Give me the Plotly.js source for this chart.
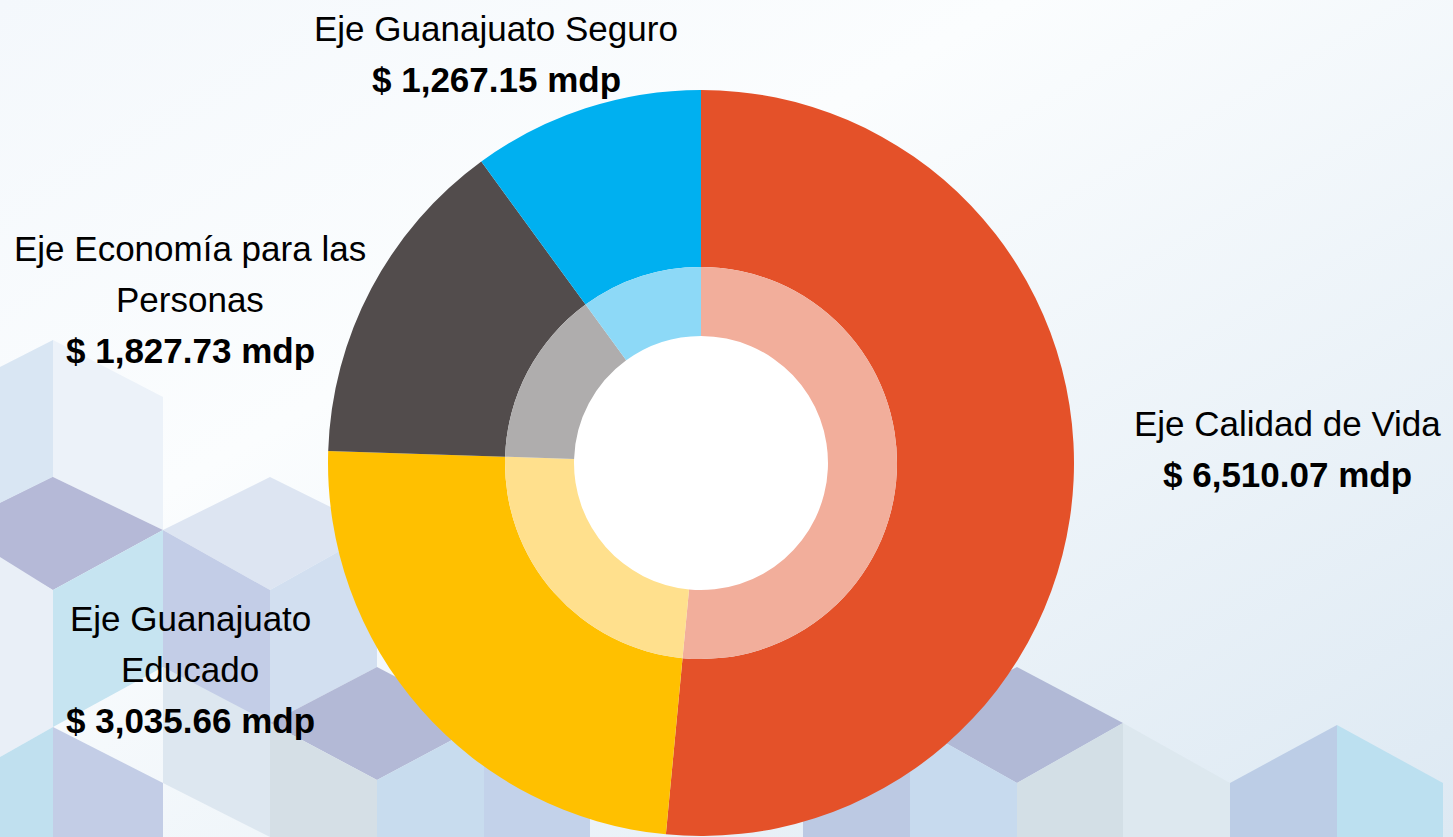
<!DOCTYPE html>
<html>
<head>
<meta charset="utf-8">
<script src="https://cdn.plot.ly/plotly-3.0.1.min.js"></script>
<style>
  html, body { margin: 0; padding: 0; background: #ffffff; }
  #plot { width: 1453px; height: 837px; }
</style>
</head>
<body>
<div id="plot"></div>
<script>
// data (millones de pesos)
var labels = ["Eje Calidad de Vida", "Eje Guanajuato Educado", "Eje Economía para las Personas", "Eje Guanajuato Seguro"];
var labelLines = [["Eje Calidad de Vida"], ["Eje Guanajuato", "Educado"], ["Eje Economía para las", "Personas"], ["Eje Guanajuato Seguro"]];
var values = [6510.07, 3035.66, 1827.73, 1267.15];
var outerColors = ["#E45129", "#FFC000", "#524C4C", "#00B0F0"];
var innerColors = ["#F2AE9B", "#FFE08D", "#AFADAD", "#8DD9F7"];

var W = 1453, H = 837;

// label blocks: centre x and y of the first line (pixels)
var labelPos = [[1287, 423], [190, 618], [190, 248], [496, 28]];
var lineGap = 51;

// background: pale gradient + isometric cube faces
var faces = [
  [[[0,367],[53,340],[53,477],[0,503]], "#d9e6f3"],
  [[[53,340],[163,397],[163,530],[53,477]], "#ecf2f9"],
  [[[0,503],[53,477],[53,590],[0,557]], "#b6b9d7"],
  [[[-54,530],[53,477],[163,530],[53,590]], "#b5b9d7"],
  [[[163,530],[270,477],[377,530],[270,590]], "#dde5f2"],
  [[[0,557],[53,590],[53,727],[0,757]], "#e9eff7"],
  [[[53,590],[163,530],[163,667],[53,727]], "#c6e4f1"],
  [[[163,530],[270,590],[270,727],[163,667]], "#c3cde7"],
  [[[270,590],[377,530],[377,667],[270,723]], "#d2dff0"],
  [[[0,757],[53,727],[53,837],[0,837]], "#c0e0ef"],
  [[[53,727],[163,783],[163,837],[53,837]], "#c3cde6"],
  [[[163,783],[163,667],[270,723],[270,837]], "#dde7f0"],
  [[[270,723],[377,667],[484,723],[377,780]], "#b3b9d6"],
  [[[270,723],[377,780],[377,837],[270,837]], "#d5dfe6"],
  [[[377,780],[484,723],[484,837],[377,837]], "#c8dcee"],
  [[[484,723],[590,780],[590,837],[484,837]], "#c3d2ea"],
  [[[803,783],[910,723],[910,837],[803,837]], "#bcc9e3"],
  [[[910,723],[1017,667],[1123,723],[1017,783]], "#b1b9d6"],
  [[[910,723],[1017,783],[1017,837],[910,837]], "#c7daee"],
  [[[1017,783],[1123,723],[1123,837],[1017,837]], "#d3dfe6"],
  [[[1123,723],[1230,783],[1230,837],[1123,837]], "#dde8ef"],
  [[[1230,783],[1337,725],[1337,837],[1230,837]], "#bccde6"],
  [[[1337,725],[1443,783],[1443,837],[1337,837]], "#bce0f0"]
];

var svg = '<svg xmlns="http://www.w3.org/2000/svg" width="' + W + '" height="' + H + '" viewBox="0 0 ' + W + ' ' + H + '" preserveAspectRatio="none">' +
  '<defs><linearGradient id="g" x1="0" y1="0" x2="1" y2="1">' +
  '<stop offset="0" stop-color="#f4f8fc"/><stop offset="0.35" stop-color="#fbfdfe"/>' +
  '<stop offset="1" stop-color="#dde9f3"/></linearGradient></defs>' +
  '<rect x="0" y="0" width="' + W + '" height="' + H + '" fill="url(#g)"/>';
faces.forEach(function (f) {
  svg += '<polygon points="' + f[0].map(function (p) { return p.join(","); }).join(" ") + '" fill="' + f[1] + '"/>';
});
svg += '<circle cx="701" cy="463" r="130" fill="#ffffff"/>';
svg += '</svg>';
var bgSource = "data:image/svg+xml;charset=utf-8," + encodeURIComponent(svg);

// ring geometry in pixels
var cx = 701, cy = 463;
var rOuter = 373, rMid = 196, rHole = 127;

function domainFor(r) {
  return {
    x: [(cx - r) / W, (cx + r) / W],
    y: [(H - cy - r) / H, (H - cy + r) / H]
  };
}

var outer = {
  type: "pie",
  values: values,
  labels: labels,
  sort: false,
  direction: "clockwise",
  rotation: 0,
  hole: rMid / rOuter,
  domain: domainFor(rOuter),
  marker: { colors: outerColors, line: { width: 0 } },
  textinfo: "none",
  hoverinfo: "label+value",
  showlegend: false
};

var inner = {
  type: "pie",
  values: values,
  labels: labels,
  sort: false,
  direction: "clockwise",
  rotation: 0,
  hole: rHole / rMid,
  domain: domainFor(rMid),
  marker: { colors: innerColors, line: { width: 0 } },
  textinfo: "none",
  hoverinfo: "label+value",
  showlegend: false
};

var fontFam = "'Liberation Sans', Arial, sans-serif";

// one annotation per text line so the line gap can match the picture
var annotations = [];
labels.forEach(function (name, i) {
  var money = "$ " + values[i].toLocaleString("en-US", { minimumFractionDigits: 2, maximumFractionDigits: 2 }) + " mdp";
  var lines = labelLines[i].concat(["<b>" + money + "</b>"]);
  lines.forEach(function (txt, j) {
    annotations.push({
      xref: "paper", yref: "paper",
      x: labelPos[i][0] / W,
      y: 1 - (labelPos[i][1] + j * lineGap) / H,
      xanchor: "center", yanchor: "middle",
      text: txt,
      showarrow: false,
      font: { family: fontFam, size: 35, color: "#000000" }
    });
  });
});

var layout = {
  width: W,
  height: H,
  margin: { l: 0, r: 0, t: 0, b: 0 },
  paper_bgcolor: "rgba(0,0,0,0)",
  plot_bgcolor: "rgba(0,0,0,0)",
  showlegend: false,
  annotations: annotations,
  images: [{
    source: bgSource,
    xref: "paper", yref: "paper",
    x: 0, y: 1, sizex: 1, sizey: 1,
    xanchor: "left", yanchor: "top",
    sizing: "stretch",
    layer: "below"
  }]
};

Plotly.newPlot("plot", [outer, inner], layout, { displayModeBar: false, staticPlot: true });
</script>
</body>
</html>
